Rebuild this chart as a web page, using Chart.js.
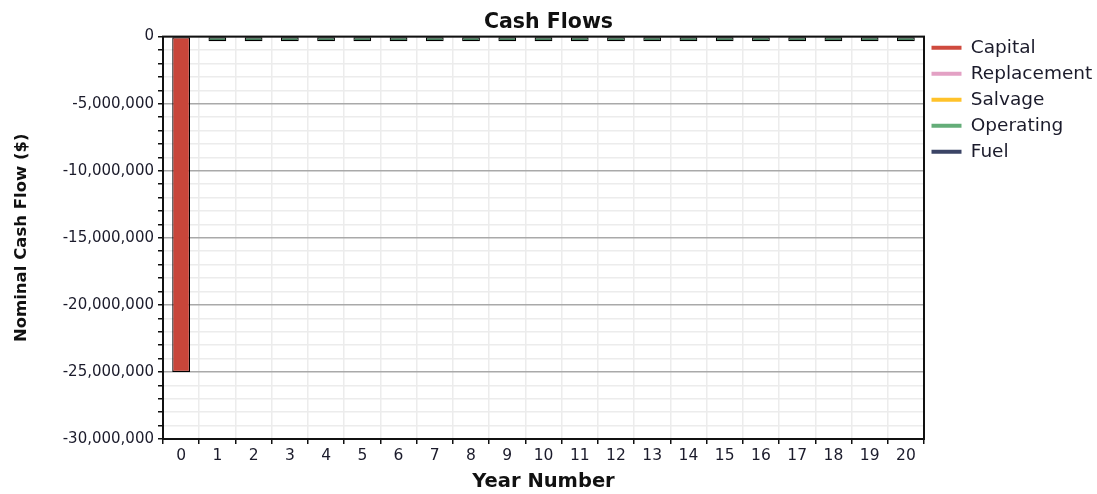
<!DOCTYPE html>
<html>
<head>
<meta charset="utf-8">
<script src="https://cdn.jsdelivr.net/npm/chart.js@4.4.1/dist/chart.umd.min.js"></script>
<style>
html,body{margin:0;padding:0;background:#fff;}
#wrap{width:1097px;height:494px;position:relative;}
</style>
</head>
<body>
<div id="wrap"><canvas id="c" width="1097" height="494"></canvas></div>
<script>
const years = ['0','1','2','3','4','5','6','7','8','9','10','11','12','13','14','15','16','17','18','19','20'];
const capital     = [-25000000,0,0,0,0,0,0,0,0,0,0,0,0,0,0,0,0,0,0,0,0];
const replacement = [0,0,0,0,0,0,0,0,0,0,0,0,0,0,0,0,0,0,0,0,0];
const salvage     = [0,0,0,0,0,0,0,0,0,0,0,0,0,0,0,0,0,0,0,0,0];
const operating   = [0,-350000,-350000,-350000,-350000,-350000,-350000,-350000,-350000,-350000,-350000,-350000,-350000,-350000,-350000,-350000,-350000,-350000,-350000,-350000,-350000];
const fuel        = [0,0,0,0,0,0,0,0,0,0,0,0,0,0,0,0,0,0,0,0,0];
const seriesNames = ['Capital','Replacement','Salvage','Operating','Fuel'];
const yMin = -30000000, yMax = 0, yStep = 1000000, yMajor = 5000000;

const barColors    = ['#c8463a','#e3a1c4','#ffc22a','#44805c','#3b4466'];
const legendColors = ['#cf4a3e','#e3a1c4','#ffc22a','#64ad78','#3b4466'];
const FONT = '"DejaVu Sans", sans-serif';
const LEGEND_WIDTH = 173;

const borderBox = {
  id:'borderBox',
  beforeUpdate(chart){
    const lg = chart.legend;
    if (lg && !lg._fixedFit){
      const orig = lg.fit;
      lg.fit = function(){ orig.call(this); this.width = LEGEND_WIDTH; };
      lg._fixedFit = true;
    }
  },
  afterDatasetsDraw(chart){
    const a = chart.chartArea, ctx = chart.ctx;
    ctx.save();
    ctx.strokeStyle = '#111';
    ctx.lineWidth = 2;
    ctx.strokeRect(a.left, a.top, a.right - a.left, a.bottom - a.top);
    ctx.restore();
  }
};

const series = [capital, replacement, salvage, operating, fuel];
new Chart(document.getElementById('c'), {
  type:'bar',
  data:{
    labels: years,
    datasets: series.map((d,i)=>({
      label: seriesNames[i],
      data: d,
      backgroundColor: barColors[i],
      borderColor: '#000',
      borderWidth: 1.2,
      borderSkipped: false,
      barPercentage: 0.49,
      categoryPercentage: 1.0
    }))
  },
  plugins:[borderBox],
  options:{
    responsive:false,
    animation:false,
    layout:{padding:{left:0,right:0,top:0,bottom:0}},
    plugins:{
      title:{display:true,text:'Cash Flows',color:'#111',
        font:{family:FONT,size:20.5,weight:'bold'},padding:{top:10,bottom:2}},
      legend:{position:'right',align:'start',
        title:{display:true,text:'',font:{size:10},padding:{top:19,bottom:0}},
        labels:{
          color:'#1b1b2b',
          font:{family:FONT,size:18.5},
          boxWidth:30, boxHeight:4, padding:7.5,
          generateLabels(chart){
            return seriesNames.map((n,i)=>({text:n,fillStyle:legendColors[i],strokeStyle:legendColors[i],lineWidth:0,hidden:false,datasetIndex:i,fontColor:'#1b1b2b'}));
          }
        }},
      tooltip:{enabled:false}
    },
    scales:{
      x:{
        stacked:true,
        offset:true,
        grid:{offset:true,color:'#ececec',lineWidth:1.5,tickColor:'#111',tickLength:5,tickWidth:1.5},
        border:{color:'#111',width:2},
        ticks:{color:'#1b1b2b',font:{family:FONT,size:15.5},padding:3,maxRotation:0,autoSkip:false},
        title:{display:true,text:'Year Number',color:'#111',font:{family:FONT,size:19.5,weight:'bold'},padding:{top:0,bottom:0}},
        afterFit(s){ s.height = 55; }
      },
      y:{
        stacked:true,
        min:yMin,max:yMax,
        grid:{
          color:(c)=> (c.tick && c.tick.value % yMajor === 0) ? '#a9a9a9' : '#ececec',
          lineWidth:1.5,
          tickColor:'#111',tickLength:5,tickWidth:1.5
        },
        border:{color:'#111',width:2},
        ticks:{stepSize:yStep,autoSkip:false,color:'#1b1b2b',font:{family:FONT,size:15},padding:4,
          callback:(v)=> (v % yMajor === 0) ? Number(v).toLocaleString('en-US') : ''},
        title:{display:true,text:'Nominal Cash Flow ($)',color:'#111',font:{family:FONT,size:16.5,weight:'bold'},padding:{top:12,bottom:4}},
        afterFit(s){ s.width = 163; }
      }
    }
  }
});
</script>
</body>
</html>
